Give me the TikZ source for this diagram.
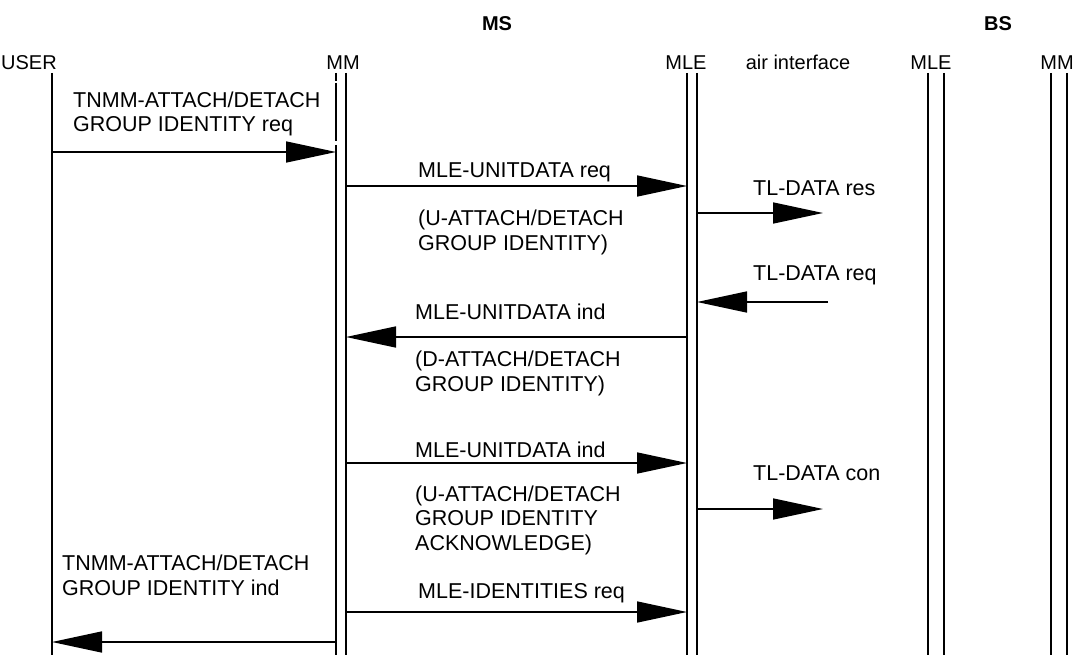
\documentclass[tikz,border=0pt]{standalone}
\usepackage{fontspec}
\setmainfont{Liberation Sans}
\usetikzlibrary{arrows.meta}
\tikzset{
  life/.style={line width=1.6pt},
  msg/.style={line width=1.6pt,-{Triangle[length=50pt,width=21pt]}},
  lbl/.style={inner sep=0pt,anchor=base west,align=left,font=\fontsize{21.5}{24.5}\selectfont},
  hdr/.style={inner sep=0pt,anchor=base,font=\fontsize{20}{24}\selectfont},
  grp/.style={inner sep=0pt,anchor=base,font=\fontsize{20}{24}\selectfont\bfseries}
}
\begin{document}
\begin{tikzpicture}[x=1pt,y=-1pt]
\useasboundingbox (0,0) rectangle (1075,655);
% headers
\node[grp] (ms) at (497,31) {MS};
\node[grp] (bs) at (998,31) {BS};
\node[hdr] (huser) at (29,70) {USER};
\node[hdr] (hmm) at (343,70) {MM};
\node[hdr] (hmle) at (686,70) {MLE};
\node[hdr] (hair) at (798,70) {air interface};
\node[hdr] (hmleb) at (931,70) {MLE};
\node[hdr] (hmmb) at (1057,70) {MM};
% lifeline coordinates
\coordinate (userT) at (52,73);   \coordinate (userB) at (52,655);
\coordinate (mmLT) at (336,73);   \coordinate (mmLB) at (336,655);
\coordinate (mmRT) at (346,73);   \coordinate (mmRB) at (346,655);
\coordinate (mleLT) at (687,73);  \coordinate (mleLB) at (687,655);
\coordinate (mleRT) at (697,73);  \coordinate (mleRB) at (697,655);
\coordinate (bmleLT) at (928,73); \coordinate (bmleLB) at (928,655);
\coordinate (bmleRT) at (944,73); \coordinate (bmleRB) at (944,655);
\coordinate (bmmLT) at (1051,73); \coordinate (bmmLB) at (1051,655);
\coordinate (bmmRT) at (1067,73); \coordinate (bmmRB) at (1067,655);
% lifelines
\draw[life] (userT) -- (userB);
\draw[life] (mmLT) -- ([yshift=-8pt]mmLT);
\draw[life] ([yshift=-10pt]mmLT) -- ([yshift=-68pt]mmLT);
\draw[life] ([yshift=-72pt]mmLT) -- (mmLB);
\draw[life] (mmRT) -- (mmRB);
\draw[life] (mleLT) -- (mleLB);
\draw[life] (mleRT) -- (mleRB);
\draw[life] (bmleLT) -- (bmleLB);
\draw[life] (bmleRT) -- (bmleRB);
\draw[life] (bmmLT) -- (bmmLB);
\draw[life] (bmmRT) -- (bmmRB);
% message end coordinates
\coordinate (tlresE) at (823,213);
\coordinate (tlreqS) at (828,302);
\coordinate (tlconE) at (823,509);
% 1: USER -> MM
\node[lbl] (t1) at (73,132) {TNMM-ATTACH/DETACH\\GROUP IDENTITY req};
\draw[msg] (userT |- 0,152) -- (mmLT |- 0,152);
% 2: MM -> MLE req
\node[lbl] (t2) at (418,178) {MLE-UNITDATA req};
\draw[msg] (mmRT |- 0,186) -- (mleLT |- 0,186);
\node[lbl] (t2b) at (418,250) {(U-ATTACH/DETACH\\GROUP IDENTITY)};
% 3: TL-DATA res
\node[lbl] (t3) at (753,195) {TL-DATA res};
\draw[msg] (mleRT |- tlresE) -- (tlresE);
% 4: TL-DATA req
\node[lbl] (t4) at (753,280) {TL-DATA req};
\draw[msg] (tlreqS) -- (mleRT |- tlreqS);
% 5: MLE -> MM ind
\node[lbl] (t5) at (415,319) {MLE-UNITDATA ind};
\draw[msg] (mleLT |- 0,337) -- (mmRT |- 0,337);
\node[lbl] (t5b) at (415,391) {(D-ATTACH/DETACH\\GROUP IDENTITY)};
% 6: MM -> MLE ind
\node[lbl] (t6) at (415,457) {MLE-UNITDATA ind};
\draw[msg] (mmRT |- 0,463) -- (mleLT |- 0,463);
\node[lbl] (t6b) at (415,550) {(U-ATTACH/DETACH\\GROUP IDENTITY\\ACKNOWLEDGE)};
% 7: TL-DATA con
\node[lbl] (t7) at (753,480) {TL-DATA con};
\draw[msg] (mleRT |- tlconE) -- (tlconE);
% 8: MLE-IDENTITIES req
\node[lbl] (t8) at (418,598) {MLE-IDENTITIES req};
\draw[msg] (mmRT |- 0,612) -- (mleLT |- 0,612);
% 9: MM -> USER
\node[lbl] (t9) at (62,595) {TNMM-ATTACH/DETACH\\GROUP IDENTITY ind};
\draw[msg] (mmLT |- 0,642) -- (userT |- 0,642);
\end{tikzpicture}
\end{document}
